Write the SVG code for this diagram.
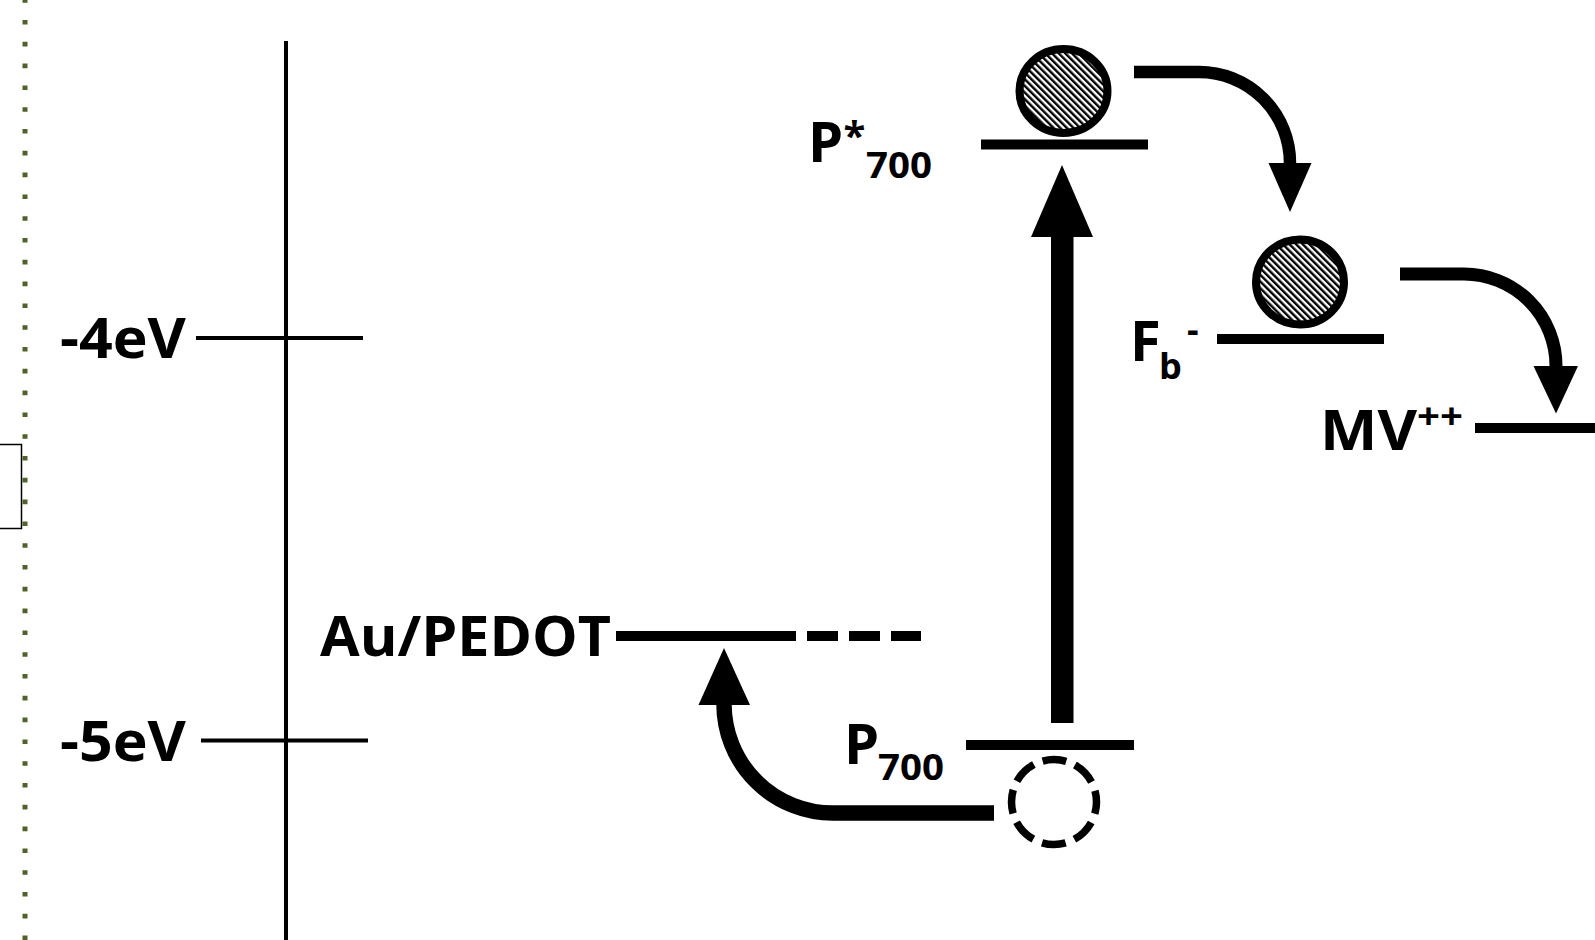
<svg xmlns="http://www.w3.org/2000/svg" width="1595" height="940" viewBox="0 0 1595 940">
<style>
.lbl{font-family:"Open Sans","Liberation Sans",sans-serif;font-weight:700;font-size:56px;fill:#000}
.sm{font-size:36px}
.st{font-size:40px}
.thin{stroke:#000;stroke-width:4;fill:none}
.lvl{stroke:#000;stroke-width:10;fill:none}
.shaft{stroke:#000;fill:none;stroke-linecap:butt}
.elec{fill:url(#hatch);stroke:#000;stroke-width:8}
</style>
<defs>
<pattern id="hatch" patternUnits="userSpaceOnUse" width="4.7" height="4.7" patternTransform="rotate(-45)">
<rect x="0" y="0" width="4.7" height="4.7" fill="#fff"/>
<rect x="0" y="0" width="2.4" height="4.7" fill="#000"/>
</pattern>
</defs>
<rect width="1595" height="940" fill="#fff"/>

<g id="frame">
<rect x="-5" y="444.5" width="26.5" height="84" fill="#fff" stroke="#000" stroke-width="1.5"/>
<line x1="25" y1="-1.8" x2="25" y2="942" stroke="#4f6228" stroke-width="5" stroke-dasharray="4.6 17.2"/>
</g>

<g id="axis">
<line class="thin" x1="286" y1="41" x2="286" y2="940"/>
</g>
<g id="tick-4eV">
<line class="thin" x1="196" y1="338" x2="363" y2="338"/>
<text class="lbl" x="60" y="358" textLength="126" lengthAdjust="spacingAndGlyphs">-4eV</text>
</g>
<g id="tick-5eV">
<line class="thin" x1="201" y1="740.5" x2="368" y2="740.5"/>
<text class="lbl" x="60" y="761" textLength="126" lengthAdjust="spacingAndGlyphs">-5eV</text>
</g>

<g id="au-pedot">
<text class="lbl" x="320" y="656" textLength="291" lengthAdjust="spacingAndGlyphs">Au/PEDOT</text>
<line class="lvl" x1="616" y1="636" x2="783" y2="636"/>
<line class="lvl" x1="765" y1="636" x2="921" y2="636" stroke-dasharray="31 11"/>
</g>

<g id="p700-excited">
<text class="lbl" x="808" y="162">P<tspan class="st" x="843.5" y="150">*</tspan><tspan class="sm" x="866" y="178" textLength="66" lengthAdjust="spacingAndGlyphs">700</tspan></text>
<line class="lvl" x1="981" y1="144.5" x2="1148" y2="144.5" stroke-width="9.5"/>
<ellipse class="elec" cx="1063.5" cy="91" rx="44" ry="42"/>
</g>

<g id="p700">
<text class="lbl" x="844" y="764">P<tspan class="sm" x="878" y="780" textLength="66" lengthAdjust="spacingAndGlyphs">700</tspan></text>
<line class="lvl" x1="966" y1="745" x2="1134" y2="745"/>
<circle cx="1054" cy="802" r="42.5" fill="none" stroke="#000" stroke-width="7.5" stroke-dasharray="24 9.4" stroke-dashoffset="12"/>
</g>

<g id="fb">
<text class="lbl" x="1130" y="361">F<tspan class="sm" x="1159" y="379">b</tspan><tspan class="sm" x="1187" y="342">-</tspan></text>
<line class="lvl" x1="1217" y1="339" x2="1384" y2="339"/>
<ellipse class="elec" cx="1300" cy="282" rx="44" ry="42.5"/>
</g>

<g id="mv">
<text class="lbl" x="1320" y="450"><tspan textLength="97" lengthAdjust="spacingAndGlyphs">MV</tspan><tspan class="sm" x="1417" y="428.5" textLength="46" lengthAdjust="spacingAndGlyphs">++</tspan></text>
<line class="lvl" x1="1475" y1="428" x2="1600" y2="428"/>
</g>

<g id="connectors">
<rect x="1051" y="236" width="22.5" height="487"/>
<polygon points="1062,165 1093,237 1031,237"/>
<path class="shaft" stroke-width="12.5" d="M1134,72 H1199 A91,91 0 0 1 1290,163"/>
<polygon points="1268.5,163 1311.5,163 1290,212"/>
<path class="shaft" stroke-width="13" d="M1400,274 H1464 A92,92 0 0 1 1556,366"/>
<polygon points="1533.5,366 1578,366 1556,413.5"/>
<path class="shaft" stroke-width="15.5" d="M994,813 H833 A109,109 0 0 1 724,704"/>
<polygon points="698.5,705 750,705 724,648"/>
</g>
</svg>
